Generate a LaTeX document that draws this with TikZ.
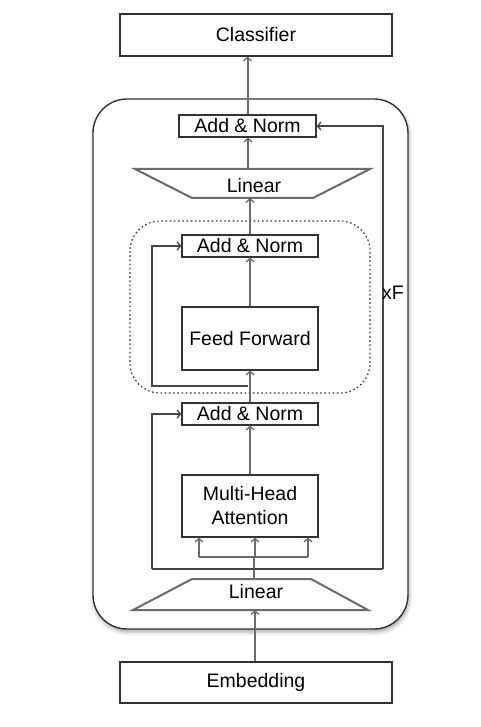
\documentclass[tikz,border=0pt]{standalone}
\usepackage{fontspec}
\setmainfont{Liberation Sans}
\usetikzlibrary{arrows.meta,shadows.blur}

\begin{document}
\begin{tikzpicture}[x=1pt,y=-1pt,
  blk/.style={draw=black!80, line width=1.2pt, inner sep=0pt, font=\fontsize{19.5}{24}\selectfont},
  lbl/.style={inner sep=0pt, font=\fontsize{19.5}{24}\selectfont},
  trap/.style={draw=black!58, line width=2pt, line join=miter},
  flow/.style={draw=black!58, line width=2pt, -{Straight Barb[length=3.5pt,width=8pt,line width=1.3pt]}},
  gline/.style={draw=black!58, line width=2pt},
  skip/.style={draw=black!72, line width=1.3pt, -{Straight Barb[length=3.5pt,width=8pt,line width=1.3pt]}},
  skipline/.style={draw=black!72, line width=1.3pt}]

\useasboundingbox (0,0) rectangle (480,727);

 % encoder block
 \draw [black!80, line width=1.4pt, rounded corners=34pt, fill=white,
   blur shadow={shadow xshift=1pt, shadow yshift=-3pt, shadow blur radius=4pt, shadow opacity=35}]
   (93,99) rectangle (408,629);
 \draw [black!78, line width=1.2pt, dash pattern=on 1.6pt off 2.6pt, rounded corners=30pt]
   (130,221) rectangle (370,393);

 \node[blk, minimum width=272pt, minimum height=42pt] (cls) at (256,35) {Classifier};
 \node[blk, minimum width=137pt, minimum height=22pt] (an3) at (247.5,126) {Add \& Norm};
 \node[blk, minimum width=136pt, minimum height=22pt] (an2) at (250,246) {Add \& Norm};
 \node[blk, minimum width=136pt, minimum height=63pt] (ff) at (250,338.5) {Feed Forward};
 \node[blk, minimum width=136pt, minimum height=22pt] (an1) at (250,414) {Add \& Norm};
 \node[blk, minimum width=136pt, minimum height=62pt, align=center] (mha) at (250,506) {Multi-Head\\Attention};
 \node[blk, minimum width=272pt, minimum height=41pt] (emb) at (256,682.5) {Embedding};

 % linear layers
 \draw[trap] (135,169) -- (370,169) -- (313,198) -- (192,198) -- cycle;
 \node[lbl] (lin2) at (254,186) {Linear};
 \draw[trap] (192,579) -- (311,579) -- (368,610) -- (133,610) -- cycle;
 \node[lbl] (lin1) at (256,592) {Linear};

 \coordinate (lin2-t) at (248,169);
 \coordinate (lin2-b) at (250,198);
 \coordinate (lin1-t) at (254,579);
 \coordinate (lin1-b) at (255,610);
 \coordinate (split) at (254,557);
 \coordinate (r2) at (248,386);
 \coordinate (lx) at (152,569);
 \coordinate (rx) at (383,569);

 \draw[flow] (an3.north) -- (an3.north |- cls.south);
 \draw[flow] (lin2-t) -- (lin2-t |- an3.south);
 \draw[flow] (an2.north) -- (lin2-b);
 \draw[flow] (ff.north) -- (an2.south);
 \draw[flow] (an1.north) -- (ff.south);
 \draw[flow] (mha.north) -- (an1.south);
 \draw[flow] (lin1-b |- emb.north) -- (lin1-b);

 \draw[gline] (lin1-t) -- (split);
 \draw[gline] (199,557) -- (308,557);
 \foreach \x in {199,255,308}
   \draw[flow] (\x,0 |- split) -- (\x,0 |- mha.south);

 % residual paths
 \draw[skip] (r2) -| (lx |- an2.west) -- (an2.west);
 \draw[skip] (lx) |- (an1.west);
 \draw[skipline] (lx) -- (rx);
 \draw[skip] (rx) |- (an3.east);

 \node[lbl] (rep) at (393,293) {xF};

\end{tikzpicture}
\end{document}
